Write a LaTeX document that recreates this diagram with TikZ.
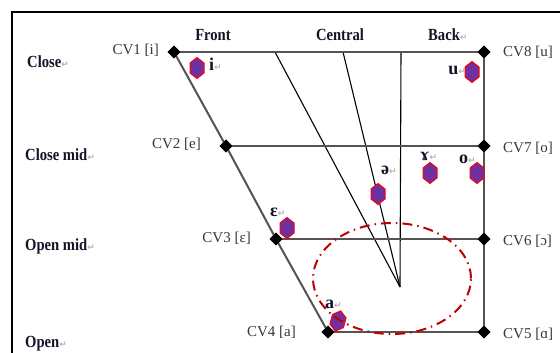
\documentclass[tikz,border=0pt]{standalone}
\usepackage{fontspec}
\setmainfont{Liberation Serif}
\newfontfamily\arrowfont{DejaVu Sans}
\usetikzlibrary{shapes.geometric}
\definecolor{framegray}{RGB}{88,82,82}
\definecolor{hexfill}{RGB}{112,48,160}
\definecolor{ellred}{RGB}{192,0,0}
\definecolor{labink}{RGB}{20,20,40}
\definecolor{cvink}{RGB}{55,55,55}
\newcommand{\rt}{{\arrowfont\fontsize{9}{9}\selectfont\textcolor{gray!60}{↵}}}
\newcommand{\sq}[1]{\scalebox{0.86}[1]{#1}}
\tikzset{
  vtx/.style={diamond, fill=black, inner sep=0pt, minimum size=13pt},
  gline/.style={draw=framegray, line width=2pt},
  cline/.style={draw=black, line width=1.1pt},
  rowlab/.style={font=\fontsize{17}{17}\selectfont\bfseries, text=labink, inner sep=0pt},
  collab/.style={font=\fontsize{17}{17}\selectfont\bfseries, text=labink, inner sep=0pt},
  cvlab/.style={font=\fontsize{15}{15}\selectfont, text=cvink, inner sep=0pt},
  vlab/.style={font=\fontsize{18}{18}\selectfont\bfseries, text=labink, inner sep=0pt},
  hexv/.pic={\draw[draw=red, fill=hexfill, line width=1pt]
     (0,-10.5) -- (7,-5) -- (7,5) -- (0,10.5) -- (-7,5) -- (-7,-5) -- cycle;}
}
\begin{document}
\begin{tikzpicture}[x=1pt, y=-1pt]
\useasboundingbox (0,0) rectangle (560,353);
\clip (0,0) rectangle (560,353);
\fill[white] (0,0) rectangle (560,353);
% frame
\draw[black, line width=2.8pt] (12,400) -- (12,12) -- (600,12);

% vertices
\node[vtx] (CV1) at (174,52) {};
\node[vtx] (CV2) at (226,146) {};
\node[vtx] (CV3) at (276,239) {};
\node[vtx] (CV4) at (328,332) {};
\node[vtx] (CV8) at (484,52) {};
\node[vtx] (CV7) at (484,146) {};
\node[vtx] (CV6) at (484,239) {};
\node[vtx] (CV5) at (484,332) {};

% central lines
\coordinate (t1) at (275,52);
\coordinate (t2) at (343,52);
\coordinate (t3) at (401,52);
\coordinate (apex) at (400,287);
\draw[cline] (t1) -- (apex);
\draw[cline] (t2) -- (apex);
\draw[cline] (t3) -- (apex);

% trapezium
\draw[gline] (CV1.center) -- (CV8.center);
\draw[gline] (CV2.center) -- (CV7.center);
\draw[gline] (CV3.center) -- (CV6.center);
\draw[gline] (CV4.center) -- (CV5.center);
\draw[gline] (CV1.center) -- (CV2.center) -- (CV3.center) -- (CV4.center);
\draw[gline] (CV8.center) -- (CV7.center) -- (CV6.center) -- (CV5.center);
\foreach \n in {CV1,CV2,CV3,CV4,CV5,CV6,CV7,CV8} \node[vtx] at (\n) {};

% column labels
\node[collab] (front) at (213,35) {\sq{Front}};
\node[collab] (central) at (340,35) {\sq{Central}};
\node[collab, anchor=west] (back) at (428,35) {\sq{Back}\rt};

% row labels
\node[rowlab, anchor=west] (close) at (27,62) {\sq{Close}\rt};
\node[rowlab, anchor=west] (closemid) at (25,155) {\sq{Close mid}\rt};
\node[rowlab, anchor=west] (openmid) at (25,246) {\sq{Open mid}\rt};
\node[rowlab, anchor=west] (open) at (25,344) {\sq{Open}\rt};

% CV labels
\node[cvlab, anchor=east] (l1) at (159,50) {CV1 [i]};
\node[cvlab, anchor=east] (l2) at (201,144) {CV2 [e]};
\node[cvlab, anchor=east] (l3) at (251,238) {CV3 [ɛ]};
\node[cvlab, anchor=east] (l4) at (296,332) {CV4 [a]};
\node[cvlab, anchor=west] (l8) at (503,52) {CV8 [u]};
\node[cvlab, anchor=west] (l7) at (503,148) {CV7 [o]};
\node[cvlab, anchor=west] (l6) at (503,241) {CV6 [ɔ]};
\node[cvlab, anchor=west] (l5) at (503,334) {CV5 [ɑ]};

% vowel markers
\pic at (197,68) {hexv};
\pic at (472,72) {hexv};
\pic at (430,173) {hexv};
\pic at (477,173) {hexv};
\pic at (378,194) {hexv};
\pic at (287,228) {hexv};
\pic[rotate=-15] at (338,321) {hexv};

% vowel labels
\node[vlab, anchor=west] (vi) at (209,64) {i\rt};
\node[vlab, anchor=east] (vu) at (466,70) {u\rt};
\node[vlab, anchor=west] (vgam) at (420,156) {ɤ\rt};
\node[vlab, anchor=west] (vo) at (459,159) {o\rt};
\node[vlab, anchor=west] (vschwa) at (381,170) {ə\rt};
\node[vlab, anchor=west] (veps) at (270,212) {ɛ\rt};
\node[vlab, anchor=west] (va) at (325,304) {a\rt};

% ellipse
\draw[ellred, line width=2pt, dash pattern=on 10pt off 5pt on 1.5pt off 5pt]
  (392,278.5) ellipse [x radius=79pt, y radius=55.5pt];
\end{tikzpicture}
\end{document}
